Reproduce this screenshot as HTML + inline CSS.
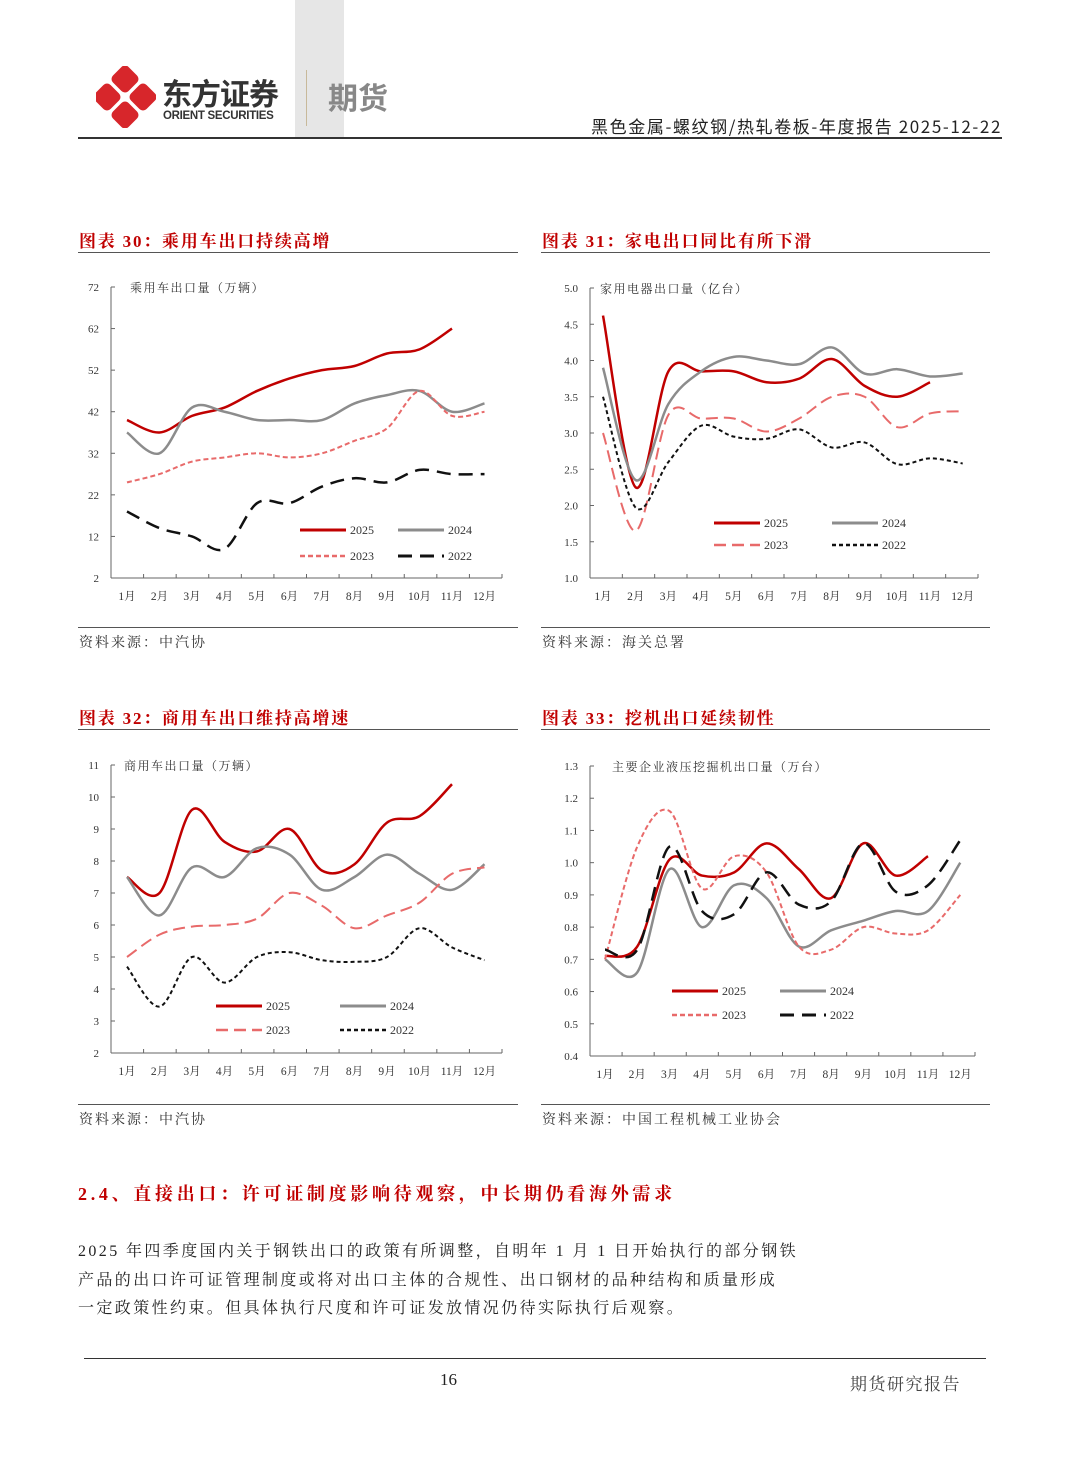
<!DOCTYPE html>
<html><head><meta charset="utf-8"><style>
body{margin:0;background:#fff;}
#pg{position:relative;width:1080px;height:1466px;overflow:hidden;font-family:"Liberation Serif","Noto Serif CJK SC",serif;color:#222;}
.t{position:absolute;white-space:nowrap;}
.red{color:#c00000;font-weight:bold;font-size:17px;letter-spacing:1.8px;}
.src{font-size:14px;color:#333;letter-spacing:2px;}
.hl{position:absolute;height:1px;background:#555;}
</style></head><body>
<div id="pg">
<div style="position:absolute;left:295px;top:0;width:49px;height:137px;background:#e6e6e6"></div>
<svg style="position:absolute;left:96px;top:66px" width="60" height="62">
<g fill="#d7262b"><rect x="18" y="2" width="22" height="22" rx="5" transform="rotate(45 29 13)"/><rect x="18" y="38" width="22" height="22" rx="5" transform="rotate(45 29 49)"/><rect x="0" y="20" width="22" height="22" rx="5" transform="rotate(45 11 31)"/><rect x="36" y="20" width="22" height="22" rx="5" transform="rotate(45 47 31)"/></g></svg>
<div class="t" style="left:162px;top:76px;line-height:32px;font-family:'Noto Sans CJK SC',sans-serif;font-weight:bold;font-size:30px;color:#333;letter-spacing:-1px">东方证券</div>
<div class="t" style="left:163px;top:110px;line-height:13px;font-family:'Liberation Sans',sans-serif;font-weight:bold;font-size:11.5px;color:#333;letter-spacing:-0.3px">ORIENT SECURITIES</div>
<div style="position:absolute;left:306px;top:70px;width:1px;height:56px;background:#c8b99a"></div>
<div class="t" style="left:328px;top:74px;font-family:'Noto Sans CJK SC',sans-serif;font-weight:bold;font-size:30px;color:#888">期货</div>
<div class="t" style="right:78px;top:113px;font-family:'Noto Sans CJK SC',sans-serif;font-size:17px;color:#222;letter-spacing:1.6px">黑色金属-螺纹钢/热轧卷板-年度报告 2025-12-22</div>
<div class="hl" style="left:78px;top:137px;width:924px;height:2px;background:#333"></div>

<div class="t red" style="left:79px;top:227px">图表 30：乘用车出口持续高增</div>
<div class="hl" style="left:78px;top:252px;width:440px"></div>
<div class="t red" style="left:542px;top:227px">图表 31：家电出口同比有所下滑</div>
<div class="hl" style="left:541px;top:252px;width:449px"></div>
<div class="hl" style="left:78px;top:627px;width:440px"></div>
<div class="hl" style="left:541px;top:627px;width:449px"></div>
<div class="t src" style="left:79px;top:632px">资料来源：中汽协</div>
<div class="t src" style="left:542px;top:632px">资料来源：海关总署</div>

<div class="t red" style="left:79px;top:704px">图表 32：商用车出口维持高增速</div>
<div class="hl" style="left:78px;top:729px;width:440px"></div>
<div class="t red" style="left:542px;top:704px">图表 33：挖机出口延续韧性</div>
<div class="hl" style="left:541px;top:729px;width:449px"></div>
<div class="hl" style="left:78px;top:1104px;width:440px"></div>
<div class="hl" style="left:541px;top:1104px;width:449px"></div>
<div class="t src" style="left:79px;top:1109px">资料来源：中汽协</div>
<div class="t src" style="left:542px;top:1109px">资料来源：中国工程机械工业协会</div>

<div class="t red" style="left:78px;top:1180px;font-size:18px;letter-spacing:3.7px">2.4、直接出口：许可证制度影响待观察，中长期仍看海外需求</div>
<div class="t" style="left:78px;top:1238px;font-size:16px;line-height:28.5px;letter-spacing:2.4px">2025 年四季度国内关于钢铁出口的政策有所调整，自明年 1 月 1 日开始执行的部分钢铁<br>产品的出口许可证管理制度或将对出口主体的合规性、出口钢材的品种结构和质量形成<br>一定政策性约束。但具体执行尺度和许可证发放情况仍待实际执行后观察。</div>
<div class="hl" style="left:84px;top:1358px;width:902px;background:#333"></div>
<div class="t" style="left:440px;top:1370px;font-size:17px">16</div>
<div class="t" style="left:850px;top:1370px;font-size:17px;color:#444;letter-spacing:1.5px">期货研究报告</div>

<svg id="sv" style="position:absolute;left:0;top:0" width="1080" height="1466"></svg>
</div>
<script>
const months=["1月","2月","3月","4月","5月","6月","7月","8月","9月","10月","11月","12月"];
const c1ticks=[2,12,22,32,42,52,62,72];
const c1_2025=[40,37,41,43,47,50,52,53,56,57,62];
const c1_2024=[37,32,43,42,40,40,40,44,46,47,42,44];
const c1_2023=[25,27,30,31,32,31,32,35,38,47,41,42];
const c1_2022=[18,14,12,9,20,20,24,26,25,28,27,27];
const c2ticks=[1.0,1.5,2.0,2.5,3.0,3.5,4.0,4.5,5.0];
const c2_2025=[4.62,2.25,3.85,3.85,3.85,3.7,3.75,4.02,3.65,3.5,3.7];
const c2_2024=[3.9,2.35,3.4,3.85,4.05,4.0,3.95,4.18,3.82,3.88,3.78,3.82];
const c2_2023=[3.0,1.65,3.25,3.2,3.2,3.02,3.2,3.5,3.5,3.08,3.27,3.3];
const c2_2022=[3.5,1.97,2.6,3.1,2.95,2.92,3.05,2.8,2.87,2.57,2.65,2.58];
const c3ticks=[2,3,4,5,6,7,8,9,10,11];
const c3_2025=[7.5,7.0,9.6,8.6,8.3,9.0,7.7,7.9,9.2,9.4,10.4];
const c3_2024=[7.5,6.3,7.8,7.5,8.4,8.2,7.1,7.5,8.2,7.6,7.1,7.9];
const c3_2023=[5.0,5.7,5.95,6.0,6.2,7.0,6.6,5.9,6.3,6.7,7.6,7.8];
const c3_2022=[4.7,3.45,5.0,4.2,5.0,5.15,4.9,4.85,5.0,5.9,5.3,4.9];
const c4ticks=[0.4,0.5,0.6,0.7,0.8,0.9,1.0,1.1,1.2,1.3];
const c4_2025=[0.71,0.74,1.01,0.96,0.97,1.06,0.98,0.89,1.06,0.96,1.02];
const c4_2024=[0.70,0.66,0.98,0.80,0.93,0.89,0.74,0.79,0.82,0.85,0.85,1.0];
const c4_2023=[0.70,1.05,1.16,0.92,1.02,0.97,0.74,0.73,0.80,0.78,0.79,0.90];
const c4_2022=[0.73,0.73,1.05,0.85,0.84,0.97,0.87,0.88,1.06,0.91,0.93,1.07];

const NS="http://www.w3.org/2000/svg";
const sv=document.getElementById('sv');
function mk(tag,at,parent){const e=document.createElementNS(NS,tag);for(const k in at)e.setAttribute(k,at[k]);(parent||sv).appendChild(e);return e;}
function smooth(p){let d="M"+p[0][0]+","+p[0][1];for(let i=0;i<p.length-1;i++){const p0=p[i-1]||p[i],p1=p[i],p2=p[i+1],p3=p[i+2]||p2;
d+=" C"+(p1[0]+(p2[0]-p0[0])/6)+","+(p1[1]+(p2[1]-p0[1])/6)+" "+(p2[0]-(p3[0]-p1[0])/6)+","+(p2[1]-(p3[1]-p1[1])/6)+" "+p2[0]+","+p2[1];}return d;}
const styles={
 s2025:{stroke:"#c00000",w:2.5,dash:""},
 s2024:{stroke:"#8c8c8c",w:2.5,dash:""},
 s2023a:{stroke:"#e86a6a",w:2,dash:"5,3"},
 s2023b:{stroke:"#e86a6a",w:2,dash:"12,6"},
 s2022a:{stroke:"#111",w:2.5,dash:"14,8"},
 s2022b:{stroke:"#111",w:2,dash:"4,3"}
};
function chart(o){
 const g=mk('g',{});
 
 
 const lo=o.ticks[0],hi=o.ticks[o.ticks.length-1];
 const y=v=>o.yb+(v-lo)/(hi-lo)*(o.yt-o.yb);
 const x=i=>o.x0+i*o.dx;
 mk('line',{x1:o.ax,y1:o.yt,x2:o.ax,y2:o.yb,stroke:"#666","stroke-width":1},g);
 mk('line',{x1:o.ax,y1:o.yb,x2:o.xr,y2:o.yb,stroke:"#666","stroke-width":1},g);
 o.ticks.forEach(t=>{mk('line',{x1:o.ax,y1:y(t),x2:o.ax+4,y2:y(t),stroke:"#666"},g);
  const tx=mk('text',{x:o.ax-12,y:y(t)+4,"text-anchor":"end","font-size":11,fill:"#333","font-family":"Liberation Serif"},g);tx.textContent=o.fmt?t.toFixed(1):t;});
 for(let i=0;i<=12;i++){const xx=o.ax+i*(o.xr-o.ax)/12;mk('line',{x1:xx,y1:o.yb,x2:xx,y2:o.yb-4,stroke:"#666"},g);}
 months.forEach((m,i)=>{const tx=mk('text',{x:x(i),y:o.yb+22,"text-anchor":"middle","font-size":11.5,fill:"#333","font-family":"Liberation Serif, Noto Serif CJK SC, serif"},g);tx.textContent=m;});
 const yl=mk('text',{x:o.lx,y:o.yt+5,"font-size":12,fill:"#333","letter-spacing":1.5,"font-family":"Noto Serif CJK SC, serif"},g);yl.textContent=o.label;
 o.series.forEach(s=>{const st=styles[s.st];const pts=s.d.map((v,i)=>[x(i),y(v)]);
  const p=mk('path',{d:smooth(pts),fill:"none",stroke:st.stroke,"stroke-width":st.w,"stroke-dasharray":st.dash,"stroke-linejoin":"round"},g);
  
  });
 o.series.forEach((s,k)=>{const st=styles[s.st];const lx=o.leg[0]+(k%2)*o.leg[2],ly=o.leg[1]+Math.floor(k/2)*o.leg[3];
  const e=mk('line',{x1:lx,y1:ly,x2:lx+46,y2:ly,stroke:st.stroke,"stroke-width":st.w+0.5,"stroke-dasharray":st.dash},g);
  
  
  const tx=mk('text',{x:lx+50,y:ly+4,"font-size":12,fill:"#333","font-family":"Liberation Serif"},g);tx.textContent=s.n;});
}
chart({name:"chart30",ticks:c1ticks,ax:111,xr:502,yt:287,yb:578,x0:127,dx:32.5,lx:130,label:"乘用车出口量（万辆）",leg:[300,530,98,26],
 series:[{n:"2025",d:c1_2025,st:"s2025"},{n:"2024",d:c1_2024,st:"s2024"},{n:"2023",d:c1_2023,st:"s2023a"},{n:"2022",d:c1_2022,st:"s2022a"}]});
chart({name:"chart31",ticks:c2ticks,ax:590,xr:978,yt:288,yb:578,x0:603,dx:32.7,lx:600,fmt:1,label:"家用电器出口量（亿台）",leg:[714,523,118,22],
 series:[{n:"2025",d:c2_2025,st:"s2025"},{n:"2024",d:c2_2024,st:"s2024"},{n:"2023",d:c2_2023,st:"s2023b"},{n:"2022",d:c2_2022,st:"s2022b"}]});
chart({name:"chart32",ticks:c3ticks,ax:111,xr:502,yt:765,yb:1053,x0:127,dx:32.5,lx:124,label:"商用车出口量（万辆）",leg:[216,1006,124,24],
 series:[{n:"2025",d:c3_2025,st:"s2025"},{n:"2024",d:c3_2024,st:"s2024"},{n:"2023",d:c3_2023,st:"s2023b"},{n:"2022",d:c3_2022,st:"s2022b"}]});
chart({name:"chart33",ticks:c4ticks,ax:590,xr:975,yt:766,yb:1056,x0:605,dx:32.3,lx:612,fmt:1,label:"主要企业液压挖掘机出口量（万台）",leg:[672,991,108,24],
 series:[{n:"2025",d:c4_2025,st:"s2025"},{n:"2024",d:c4_2024,st:"s2024"},{n:"2023",d:c4_2023,st:"s2023a"},{n:"2022",d:c4_2022,st:"s2022a"}]});
</script>
</body></html>
